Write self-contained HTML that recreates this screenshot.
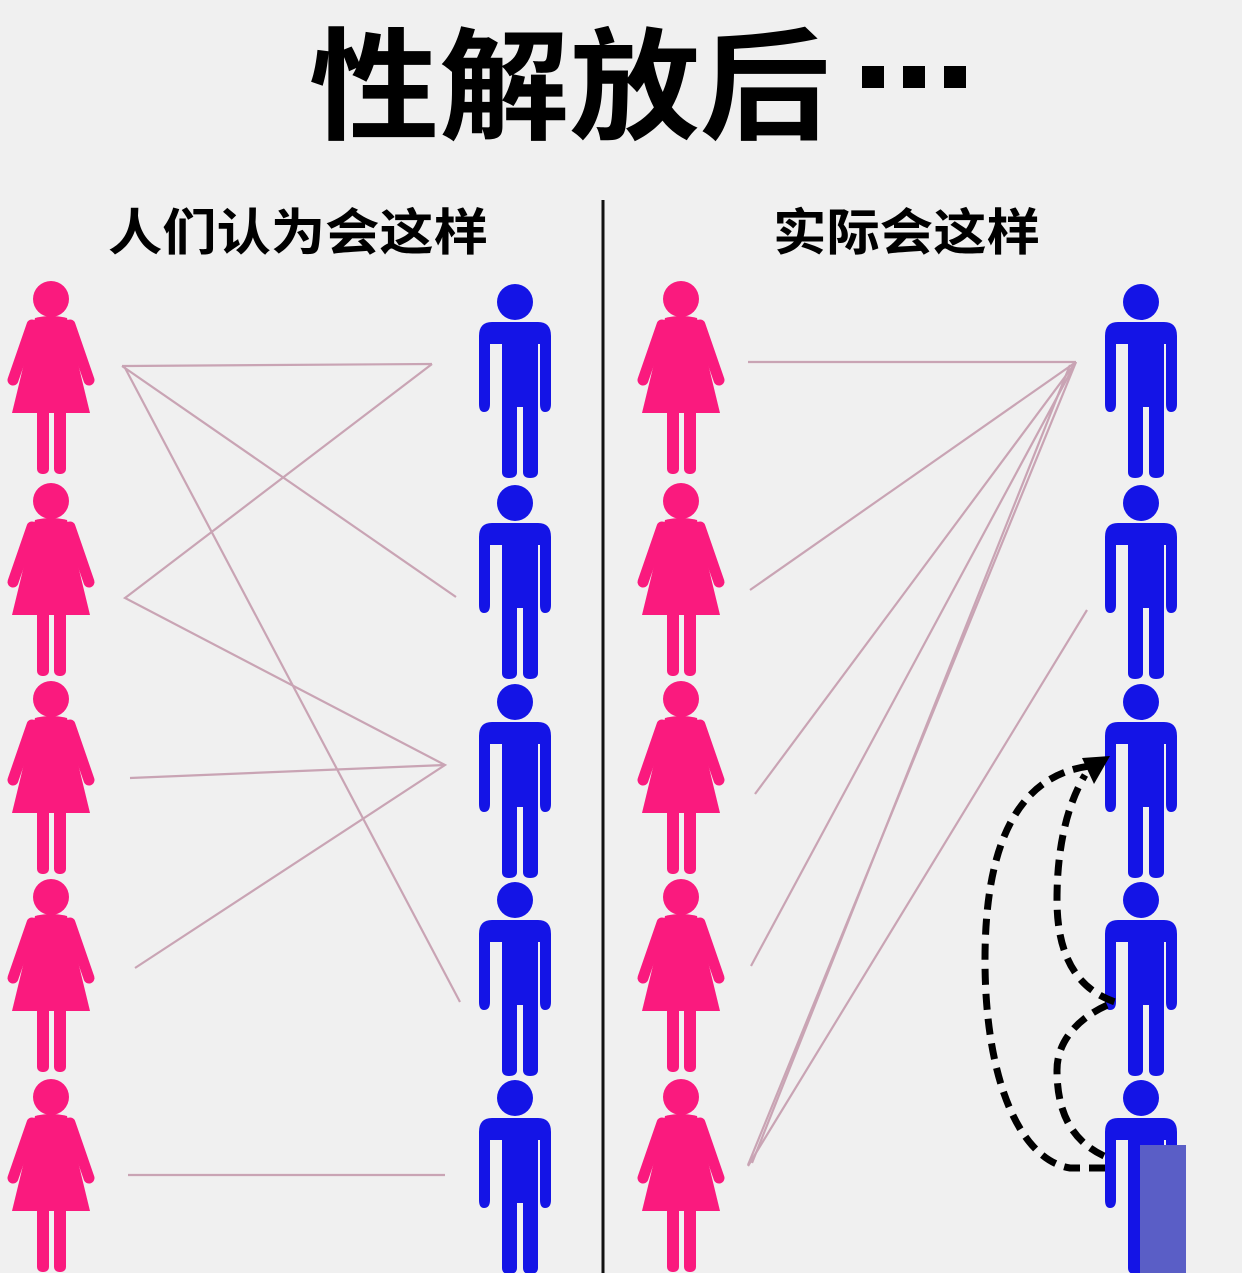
<!DOCTYPE html>
<html><head><meta charset="utf-8">
<style>
html,body{margin:0;padding:0;background:#f0f0f0;}
svg{display:block;}
</style></head>
<body>
<svg width="1242" height="1273" viewBox="0 0 1242 1273" xmlns="http://www.w3.org/2000/svg">
<defs>
<g id="w" fill="#fa1a7e">
  <circle cx="46" cy="21" r="18"/>
  <path d="M30 40 Q46 36 62 40 L85 135 L7 135 Z"/>
  <g stroke="#fa1a7e" stroke-width="11" stroke-linecap="round">
    <line x1="27" y1="47" x2="8" y2="102"/>
    <line x1="65" y1="47" x2="84" y2="102"/>
  </g>
  <rect x="32" y="128" width="12" height="68" rx="5"/>
  <rect x="49" y="128" width="12" height="68" rx="5"/>
</g>
<g id="m" fill="#1414e6">
  <circle cx="37" cy="20" r="18"/>
  <path d="M14 40 L60 40 Q73 40 73 54 L73 122 Q73 130 67 130 Q62 130 62 122 L62 62 L60 62 L60 190 Q60 196 52 196 Q45 196 45 190 L45 125 L39 125 L39 190 Q39 196 31 196 Q24 196 24 190 L24 62 L12 62 L12 122 Q12 130 6 130 Q1 130 1 122 L1 54 Q1 40 14 40 Z"/>
</g>
</defs>

<text x="309" y="130" font-family="'Liberation Sans','Noto Sans CJK SC',sans-serif" font-weight="bold" font-size="122" textLength="521" lengthAdjust="spacingAndGlyphs">性解放后</text>
<rect x="862" y="66" width="22" height="22" fill="#000"/>
<rect x="903" y="66" width="22" height="22" fill="#000"/>
<rect x="944" y="66" width="22" height="22" fill="#000"/>
<text x="108" y="250" font-family="'Liberation Sans','Noto Sans CJK SC',sans-serif" font-weight="bold" font-size="50" textLength="380" lengthAdjust="spacingAndGlyphs">人们认为会这样</text>
<text x="773" y="250" font-family="'Liberation Sans','Noto Sans CJK SC',sans-serif" font-weight="bold" font-size="50" textLength="267" lengthAdjust="spacingAndGlyphs">实际会这样</text>

<line x1="603" y1="200" x2="603" y2="1273" stroke="#111" stroke-width="3"/>

<use href="#w" x="5" y="278"/><use href="#w" x="5" y="480"/><use href="#w" x="5" y="678"/><use href="#w" x="5" y="876"/><use href="#w" x="5" y="1076"/>
<use href="#w" x="635" y="278"/><use href="#w" x="635" y="480"/><use href="#w" x="635" y="678"/><use href="#w" x="635" y="876"/><use href="#w" x="635" y="1076"/>
<use href="#m" x="478" y="282"/><use href="#m" x="478" y="483"/><use href="#m" x="478" y="682"/><use href="#m" x="478" y="880"/><use href="#m" x="478" y="1078"/>
<use href="#m" x="1104" y="282"/><use href="#m" x="1104" y="483"/><use href="#m" x="1104" y="682"/><use href="#m" x="1104" y="880"/><use href="#m" x="1104" y="1078"/>
<rect x="1140" y="1145" width="46" height="128" fill="#5a5ec6"/>

<g stroke="#c9a4b4" stroke-width="2.2" fill="none">
  <line x1="122" y1="366" x2="432" y2="364"/>
  <line x1="122" y1="366" x2="456" y2="597"/>
  <line x1="124" y1="366" x2="460" y2="1002"/>
  <polyline points="432,364 125,598 445,765 135,968"/>
  <line x1="445" y1="765" x2="130" y2="778"/>
  <line x1="128" y1="1175" x2="445" y2="1175"/>
</g>
<g stroke="#c9a4b4" stroke-width="2.2" fill="none">
  <line x1="748" y1="362" x2="1076" y2="362"/>
  <line x1="1076" y1="362" x2="750" y2="590"/>
  <line x1="1076" y1="362" x2="755" y2="794"/>
  <line x1="1076" y1="362" x2="751" y2="966"/>
  <line x1="1076" y1="362" x2="748" y2="1165"/>
  <line x1="1070" y1="365" x2="752" y2="1163"/>
  <line x1="1087" y1="610" x2="748" y2="1166"/>
</g>
<g stroke="#000" stroke-width="7" fill="none" stroke-dasharray="16,9">
  <path d="M1105 1168 L1070 1168 C1020 1160 985 1080 985 960 C985 840 1020 775 1090 766"/>
  <path d="M1104 1156 C1070 1140 1057 1110 1057 1070 C1057 1040 1080 1015 1115 1002 C1080 990 1057 960 1057 900 C1057 840 1070 800 1085 775"/>
</g>
<polygon points="1110,756 1082,758 1094,784" fill="#000"/>
</svg>
</body></html>
